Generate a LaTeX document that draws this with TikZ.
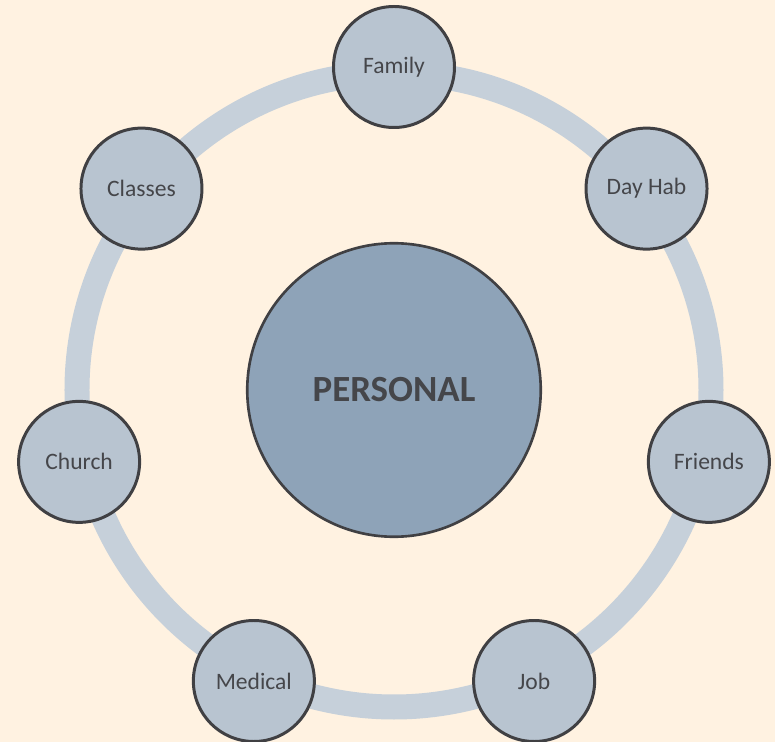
\documentclass[tikz,border=0pt]{standalone}
\usepackage{fontspec}
\setmainfont{Carlito}
\usetikzlibrary{positioning}
\definecolor{bgcream}{HTML}{FFF2E1}
\definecolor{ringblue}{HTML}{C6D0DA}
\definecolor{satfill}{HTML}{B8C4D0}
\definecolor{hubfill}{HTML}{8EA3B8}
\definecolor{edgegray}{HTML}{404043}
\definecolor{textgray}{HTML}{45464A}

\begin{document}
\begin{tikzpicture}[
    % Define the style of the outer activity circles
    activity/.style={circle, draw=edgegray, line width=1.7pt, fill=satfill, minimum size=2.42cm, inner sep=0pt, text=textgray, font=\fontsize{13.4}{16}\selectfont},
    % Define the style of the centre circle
    hub/.style={circle, draw=edgegray, line width=1.5pt, fill=hubfill, minimum size=5.87cm, inner sep=0pt, text=textgray, font=\fontsize{21}{25}\selectfont\bfseries},
    % Define the style of the ring behind the activities
    ring/.style={draw=ringblue, line width=0.5cm}
    ]

    % background and margins
    \fill[bgcream] (-7.88,-7.04) rectangle (7.62,7.80);
    \useasboundingbox (-7.88,-7.04) rectangle (7.62,7.80);

    % Centre node
    \node[hub] (personal) at (0,0) {PERSONAL};

    % Ring round the centre
    \draw[ring] (personal.center) circle[radius=6.34cm];

    % Activity nodes
    \foreach \i/\info in {0/Family, 1/Day Hab, 2/Friends, 3/Job, 4/Medical, 5/Church, 6/Classes} {
      \node[activity] (act\i) at ({90-\i*360/7}:6.46) {\info};
    }
\end{tikzpicture}
\end{document}
